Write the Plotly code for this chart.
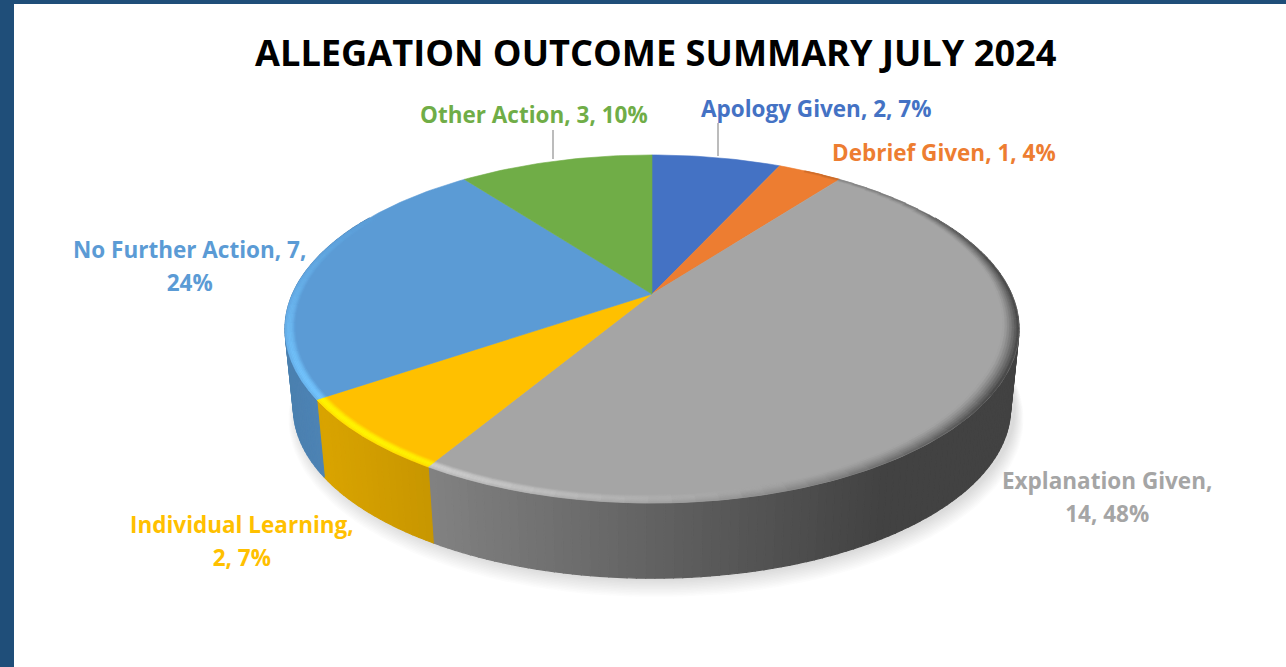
import numpy as np
import plotly.graph_objects as go

# ---- data ----
categories = ["Apology Given", "Debrief Given", "Explanation Given",
              "Individual Learning", "No Further Action", "Other Action"]
values = [2, 1, 14, 2, 7, 3]
percents = [7, 4, 48, 7, 24, 10]
colors = ["#4472C4", "#ED7D31", "#A5A5A5", "#FFC000", "#5B9BD5", "#70AD47"]
title_text = "ALLEGATION OUTCOME SUMMARY JULY 2024"

# ---- projection of the tilted disc ----
CX, CY, A, B, K = 652.0, 294.0, 167.0, 359.5, 0.201
DROP, BOTTOM_SCALE = 80.0, 0.977


def project(r, theta_deg, bottom=False, grow=0.0, dx=0.0, dy=0.0):
    th = np.radians(np.asarray(theta_deg, dtype=float))
    u, v = r * np.sin(th), r * np.cos(th)
    d = 1 + K * v
    x, y = B * u / d, -A * v / d
    if bottom:
        x, y = x * BOTTOM_SCALE, y * BOTTOM_SCALE + DROP
    return CX + x + dx + grow * x / 360, CY + y + dy + grow * y / 200


def rgb(c):
    return np.array([int(c[i:i + 2], 16) for i in (1, 3, 5)], dtype=float)


def hexa(a):
    a = np.clip(a, 0, 255)
    return "rgb(%d,%d,%d)" % tuple(np.round(a))


def side_factor(x):
    return float(np.interp(x, [285, 326, 435, 880, 1020], [0.82, 0.85, 0.78, 0.40, 0.40]))


def poly(x, y, color, lw=0.6):
    return go.Scatter(x=np.r_[x, x[0]], y=np.r_[y, y[0]], mode="lines", fill="toself",
                      fillcolor=color, line=dict(color=color, width=lw),
                      hoverinfo="skip", showlegend=False)


total = sum(values)
edges = np.r_[0, np.cumsum(values)] / total * 360
fig = go.Figure()

# soft shadow below the disc
tt = np.linspace(0, 360, 181)
for i in range(12, 0, -1):
    sx, sy = project(1, tt, bottom=True, grow=i * 0.75, dx=4, dy=i * 0.5)
    fig.add_trace(go.Scatter(x=sx, y=sy, mode="lines", fill="toself",
                             fillcolor="rgba(90,90,90,0.02)", line=dict(width=0),
                             hoverinfo="skip", showlegend=False))

# side wall, strip by strip
for idx, c in enumerate(colors):
    lo, hi = max(edges[idx], 60), min(edges[idx + 1], 300)
    if hi <= lo:
        continue
    n = max(1, int((hi - lo) / 1.2))
    ts = np.linspace(lo, hi, n + 1)
    for a, b in zip(ts[:-1], ts[1:]):
        x1, y1 = project(1, [a, b])
        x2, y2 = project(1, [b, a], bottom=True)
        f = side_factor((x1.mean() + x2.mean()) / 2)
        fig.add_trace(poly(np.r_[x1, x2], np.r_[y1, y2], hexa(rgb(c) * f), lw=1.2))

# flat top slices
for idx, c in enumerate(colors):
    ts = np.linspace(edges[idx], edges[idx + 1], max(3, int(values[idx] * 12)))
    x, y = project(1, ts)
    fig.add_trace(poly(np.r_[CX, x], np.r_[CY, y], c))

# bevel round the front rim
N_RING = 7


def highlight(th):
    width = 50 if th < 225 else 62
    return float(np.clip(1.2 * np.exp(-((th - 225) / width) ** 2) - 0.2, 0, 1))


def darken(th):
    return float(np.clip(np.exp(-((th - 100) / 58) ** 2) * 1.15, 0, 1))


def inner(th):
    return float(np.interp(th, [30, 70, 120, 190, 300], [0.985, 0.965, 0.952, 0.972, 0.975]))


for idx, c in enumerate(colors):
    lo, hi = max(edges[idx], 30), min(edges[idx + 1], 300)
    if hi <= lo:
        continue
    n = max(1, int((hi - lo) / 3))
    ts = np.linspace(lo, hi, n + 1)
    base = rgb(c)
    for a, b in zip(ts[:-1], ts[1:]):
        mid = (a + b) / 2
        hl, dk = highlight(mid), darken(mid)
        mx, _ = project(1, mid)
        side = base * side_factor(float(mx))
        ra = np.linspace(inner(a), 1.0, N_RING + 1)
        rb = np.linspace(inner(b), 1.0, N_RING + 1)
        for j in range(N_RING):
            t = (j + 0.5) / N_RING
            bump = max(0.0, 1 - ((t - 0.6) / 0.6) ** 2)
            col = base + (np.minimum(base * 1.28, 255) - base) * hl * bump
            col = col + (side - col) * dk * t ** 1.3
            xi, yi = project(np.array([ra[j], rb[j]]), [a, b])
            xo, yo = project(np.array([rb[j + 1], ra[j + 1]]), [b, a])
            fig.add_trace(poly(np.r_[xi, xo], np.r_[yi, yo], hexa(col), lw=0.5))

# leader lines
for lx, ly in (([553, 553], [130, 159]), ([718, 718], [123, 156])):
    fig.add_trace(go.Scatter(x=lx, y=ly, mode="lines", line=dict(color="#A6A6A6", width=1.5),
                             hoverinfo="skip", showlegend=False))

FONT = "Open Sans"
LABEL_PX, LINE_PX = 22.5, 25.4


def label(i, x, y, brk=None):
    txt = "%s, %d, %d%%" % (categories[i], values[i], percents[i])
    if brk:
        txt = txt.replace(brk, brk.rstrip() + "<br>", 1)
    return dict(x=x, y=y, xref="x", yref="y", text='<span style="font-size:%spx"><b>%s</b></span>' % (LABEL_PX, txt),
                showarrow=False, xanchor="center", yanchor="middle", align="center",
                font=dict(family=FONT, size=LINE_PX, color=colors[i]))


annotations = [
    dict(x=655.5, y=52, xref="x", yref="y", text="<b>%s</b>" % title_text, showarrow=False,
         xanchor="center", yanchor="middle", font=dict(family=FONT, size=36.2, color="#000000")),
    label(5, 533.5, 114),
    label(0, 815.5, 108),
    label(1, 944, 152),
    label(4, 189.5, 266, "7, "),
    label(3, 242, 541, "Learning, "),
    label(2, 1106.5, 497, "Given, "),
]

fig.update_layout(
    width=1286, height=667, margin=dict(l=0, r=0, t=0, b=0),
    paper_bgcolor="#FFFFFF", plot_bgcolor="#FFFFFF", showlegend=False,
    xaxis=dict(range=[0, 1286], visible=False, fixedrange=True),
    yaxis=dict(range=[667, 0], visible=False, fixedrange=True),
    annotations=annotations,
    shapes=[
        dict(type="rect", xref="paper", yref="paper", x0=0, x1=14 / 1286, y0=0, y1=1,
             fillcolor="#1F4E79", line_width=0, layer="above"),
        dict(type="rect", xref="paper", yref="paper", x0=0, x1=1, y0=1 - 4 / 667, y1=1,
             fillcolor="#1F4E79", line_width=0, layer="above"),
    ],
)
fig.write_html("out.html", config={"displayModeBar": False},
               post_script="document.body.style.margin='0';document.body.style.overflow='hidden';")
